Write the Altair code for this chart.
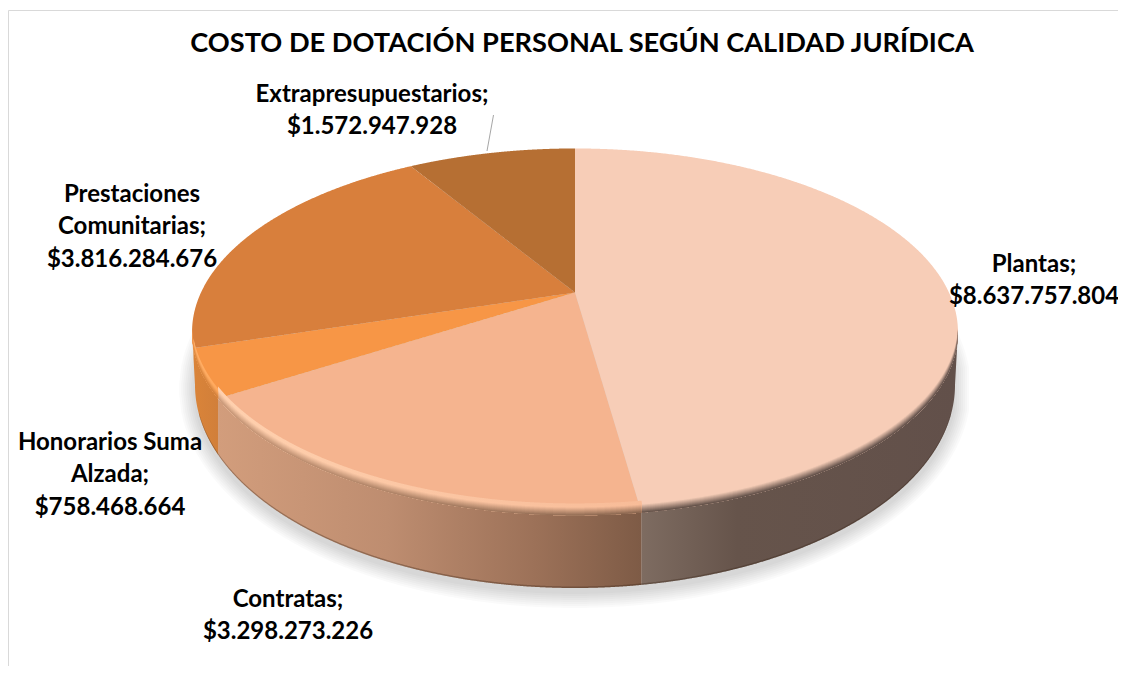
import numpy as np
import pandas as pd
import altair as alt

# ---- data ----
CATEGORIES = ["Plantas", "Contratas", "Honorarios Suma Alzada", "Prestaciones Comunitarias", "Extrapresupuestarios"]
VALUES = [8637757804, 3298273226, 758468664, 3816284676, 1572947928]
LABELS = ["Plantas;\n$8.637.757.804", "Contratas;\n$3.298.273.226", "Honorarios Suma\nAlzada;\n$758.468.664",
          "Prestaciones\nComunitarias;\n$3.816.284.676", "Extrapresupuestarios;\n$1.572.947.928"]
TITLE = "COSTO DE DOTACIÓN PERSONAL SEGÚN CALIDAD JURÍDICA"

# ---- styles and layout, kept apart from the data ----
FACE = ["#F7CDB7", "#F5B48F", "#F79646", "#D87F3C", "#B66F33"]
LABEL_X = [1034, 288, 110, 132, 372]
LABEL_Y = [264.5, 599.5, 442.5, 194.5, 94.5]
AX, AY, A, B, K = 575.0, 292.5, 374.0, 175.0, 0.215   # perspective of the pie's disc
BCX, BCY, BRX, BRY = 575.0, 385.0, 380.0, 203.0       # lower outline of the wall
W, H = 1110, 658

xs_scale = alt.Scale(domain=[8, 8 + W], range=[0, W], nice=False, zero=False)
ys_scale = alt.Scale(domain=[8, 8 + H], range=[0, H], nice=False, zero=False)
X = alt.X("x:Q", scale=xs_scale, axis=None)
Y = alt.Y("y:Q", scale=ys_scale, axis=None)
Y2 = alt.Y2("y2:Q")


def disc(theta):
    u, v = np.sin(theta), np.cos(theta)
    d = 1 + K * v
    return AX + A * u / d, AY - B * v / d


shares = np.array(VALUES, dtype=float) / sum(VALUES)
edges = np.concatenate([[0], np.cumsum(shares)]) * 2 * np.pi

# whole disc outline
tt = np.linspace(0, 2 * np.pi, 2881)
ox, oy = disc(tt)
split = np.cos(tt) < -K
low_i = np.argsort(ox[split])
up_i = np.argsort(ox[~split])
XMIN, XMAX = ox.min(), ox.max()
YMID = oy[np.argmax(ox)]


def y_low(x):
    return np.interp(x, ox[split][low_i], oy[split][low_i])


def y_up(x):
    return np.interp(x, ox[~split][up_i], oy[~split][up_i])


def y_bottom(x):
    r = np.clip(1 - ((x - BCX) / BRX) ** 2, 0, 1)
    y = BCY + BRY * np.sqrt(r)
    y = np.where(x < BCX - BRX, np.interp(x, [XMIN, BCX - BRX], [YMID, BCY]), y)
    y = np.where(x > BCX + BRX, np.interp(x, [BCX + BRX, XMAX], [BCY, YMID]), y)
    return np.maximum(y, y_low(x))


def grid(a, b, step=1.5):
    extra = ox[(ox > a) & (ox < b)]
    fine = BCX + BRX * np.sin(np.linspace(-np.pi / 2, np.pi / 2, 721))
    fine = fine[(fine > a) & (fine < b)]
    return np.unique(np.concatenate([np.arange(a, b, step), [a, b], extra[::4], fine]))


def envelope(px, py, xs):
    up, lo = [], []
    x1, y1 = px, py
    x2, y2 = np.roll(px, -1), np.roll(py, -1)
    for x in xs:
        m = ((x1 <= x) & (x < x2)) | ((x2 <= x) & (x < x1))
        yy = y1[m] + (x - x1[m]) * (y2[m] - y1[m]) / (x2[m] - x1[m])
        up.append(yy.min())
        lo.append(yy.max())
    return np.array(up), np.array(lo)


def area(xs, y, y2, color, opacity=1.0):
    df = pd.DataFrame({"x": np.round(xs, 2), "y": np.round(y, 2), "y2": np.round(y2, 2)})
    return alt.Chart(df).mark_area(color=color, opacity=opacity, interpolate="linear").encode(x=X, y=Y, y2=Y2)


def grad(*stops):
    return alt.LinearGradient(gradient="linear", x1=0, x2=1, y1=0, y2=0,
                              stops=[alt.GradientStop(color=c, offset=o) for o, c in stops])


def mix(c1, c2, t):
    a = np.array([int(c1[i:i + 2], 16) for i in (1, 3, 5)], float)
    b = np.array([int(c2[i:i + 2], 16) for i in (1, 3, 5)], float)
    r = a + (b - a) * t
    return "#%02x%02x%02x" % tuple(int(round(q)) for q in r)


layers = []

# soft shadow under the pie
for g in range(16, 0, -2):
    xs = np.arange(BCX - BRX - g + 0.1, BCX + BRX + g, 2.0)
    r = np.sqrt(np.clip(1 - ((xs - BCX) / (BRX + g)) ** 2, 0, 1))
    layers.append(area(xs, BCY + 4 - (BRY + g) * r, BCY + 4 + (BRY + g) * r, "#000000", 0.018))

# wall, one piece per slice of the front
bx = [disc(e)[0] for e in edges]
WALLS = [
    (bx[1], XMAX, [(0, "#7E6C61"), (0.3, "#66544B"), (1, "#62504A")]),
    (bx[2], bx[1], [(0, "#D29D7C"), (0.4, "#BE8D70"), (0.75, "#9C7158"), (1, "#7E5B46")]),
    (bx[3], bx[2], [(0, "#DA8439"), (1, "#D17F3A")]),
    (XMIN, bx[3], [(0, "#E58D42"), (1, "#DE883E")]),
]
for a, b, stops in WALLS:
    xs = grid(a, b)
    layers.append(area(xs, y_low(xs), y_bottom(xs), grad(*stops)))

# dark line along the wall's foot
xs = grid(BCX - BRX + 4, BCX + BRX - 4)
layers.append(area(xs, y_bottom(xs) - 1.5, y_bottom(xs), "#3A2418", 0.35))

# top face of every slice
for i, c in enumerate(FACE):
    th = np.linspace(edges[i], edges[i + 1], 300)
    px, py = disc(th)
    px = np.append(px, AX)
    py = np.append(py, AY)
    xs = np.unique(np.concatenate([px, np.arange(px.min(), px.max(), 1.5)]))
    xs = np.clip(xs, px.min() + 1e-6, px.max() - 1e-6)
    up, lo = envelope(px, py, xs)
    layers.append(area(xs, up, lo, c))

# bevel of the disc's front edge, painted in bands from the inside out
BEVEL = [
    (bx[1], XMAX, FACE[0], FACE[0], "#66544B", "#62504A", 9, 0.1),
    (bx[2], bx[1], "#FFD0AE", "#F8BC98", "#C99878", "#8A664F", 12, 0.35),
    (bx[3], bx[2], "#FFAE66", "#FFA85C", "#DA8439", "#D17F3A", 10, 0.35),
    (XMIN, bx[3], "#F79A50", "#F79A50", "#E58D42", "#DE883E", 6, 0.35),
]
for a, b, hi_l, hi_r, lo_l, lo_r, depth, hold in BEVEL:
    xs = grid(a, b)
    base = y_low(xs)
    top = y_up(xs)
    for d in range(depth, 0, -1):
        t = 1 - (d - 1) / depth
        f = max(0.0, (t - hold) / (1 - hold))
        cl = mix(hi_l, lo_l, f)
        cr = mix(hi_r, lo_r, f)
        layers.append(area(xs, np.maximum(base - d, top), base, grad((0, cl), (1, cr))))

# leader line of the top label
leader = pd.DataFrame({"x": [493.5], "y": [115], "x2": [487], "y2": [151]})
layers.append(alt.Chart(leader).mark_rule(color="#A6A6A6", strokeWidth=1).encode(
    x=X, y=Y, x2=alt.X2("x2:Q"), y2=alt.Y2("y2:Q")))

# frame of the chart area
frame = pd.DataFrame({"x": [8.5, 8.5], "y": [10.5, 10.5], "x2": [8.5, 8 + W], "y2": [8 + H, 10.5]})
layers.append(alt.Chart(frame).mark_rule(color="#D9D9D9", strokeWidth=1).encode(
    x=X, y=Y, x2=alt.X2("x2:Q"), y2=alt.Y2("y2:Q")))

# labels
labels = pd.DataFrame({"x": LABEL_X, "y": LABEL_Y, "t": LABELS})
layers.append(alt.Chart(labels).mark_text(font="Lato", fontWeight="bold", fontSize=24, color="#000000",
                                          lineBreak="\n", lineHeight=32.5, align="center", baseline="middle")
              .encode(x=X, y=Y, text="t:N"))

# title
head = pd.DataFrame({"x": [582], "y": [44], "t": [TITLE]})
layers.append(alt.Chart(head).mark_text(font="Lato", fontWeight="bold", fontSize=27.2, color="#000000",
                                        align="center", baseline="middle")
              .encode(x=X, y=Y, text="t:N"))

chart = alt.layer(*layers).properties(
    width=W, height=H,
    padding=0,
    autosize=alt.AutoSizeParams(type="none"),
    background="white",
).configure_view(stroke=None)

chart.save("out.html", embed_options={"renderer": "svg", "actions": False})
